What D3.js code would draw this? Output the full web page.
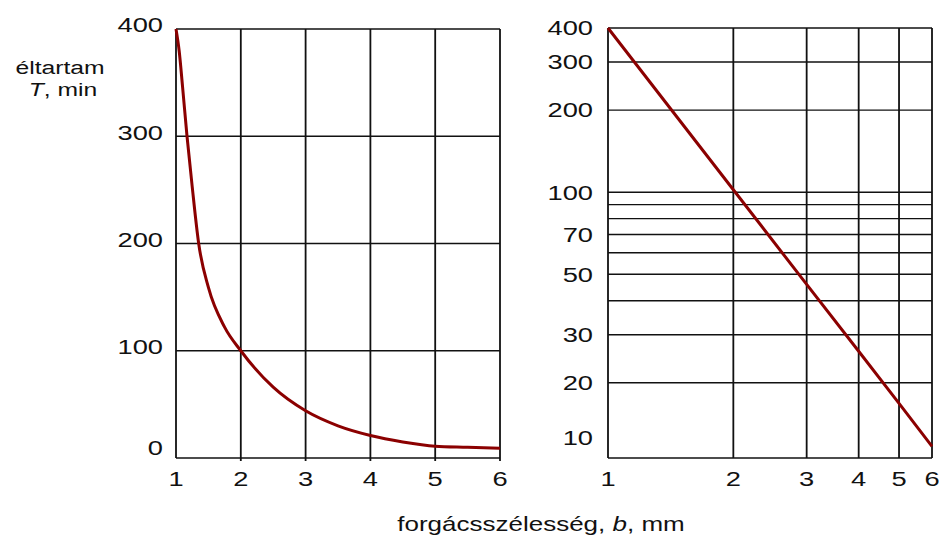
<!DOCTYPE html>
<html>
<head>
<meta charset="utf-8">
<script src="https://cdn.jsdelivr.net/npm/d3@7"></script>
<style>
  body { margin: 0; background: #fff; }
  text { font-family: "Liberation Sans", Arial, sans-serif; fill: #111; }
</style>
</head>
<body>
<div id="chart"></div>
<script>
// values
// left panel (linear axes)
var widthLin = [1, 1.05, 1.1, 1.17, 1.25, 1.35, 1.5, 1.75, 2, 2.5, 3, 3.5, 4, 4.5, 5, 5.5, 6];
var lifeLin  = [400, 379, 347, 300, 253, 200, 159, 122, 100, 66, 44, 30, 21, 15, 11, 10, 9];
// right panel (log-log, straight line)
var widthLog = [1, 2, 3, 4, 5, 6];
var lifeLog  = [400, 102.1, 45.9, 26.1, 16.8, 11.7];

var xTicks = [1, 2, 3, 4, 5, 6];
var linYTicks = [0, 100, 200, 300, 400];
var logYGrid = [20, 30, 40, 50, 60, 70, 80, 90, 100, 200, 300, 400];
var logYLabels = [10, 20, 30, 50, 70, 100, 200, 300, 400];

var W = 939, H = 539;
var stretch = 1.3; // text in the original is stretched sideways

var svg = d3.select("#chart").append("svg")
    .attr("width", W)
    .attr("height", H);

// small helper for the wide text
function label(x, y, anchor, size) {
    var g = svg.append("g").attr("transform", "translate(" + x + "," + y + ")");
    return g.append("text")
        .attr("transform", "scale(" + stretch + ",1)")
        .attr("text-anchor", anchor)
        .attr("dominant-baseline", "central")
        .style("font-size", size + "px");
}

// ---- left panel, linear ----
var xL = d3.scaleLinear().domain([1, 6]).range([176, 500]);
var yL = d3.scaleLinear().domain([0, 400]).range([458, 29]);

var left = svg.append("g");

left.selectAll("line.v")
    .data(xTicks.slice(1))
    .enter().append("line")
    .attr("x1", function(d){ return xL(d); })
    .attr("x2", function(d){ return xL(d); })
    .attr("y1", yL(0) + 3)
    .attr("y2", yL(400))
    .attr("stroke", "#111")
    .attr("stroke-width", 1.8);

left.selectAll("line.h")
    .data(linYTicks.slice(1))
    .enter().append("line")
    .attr("x1", xL(1))
    .attr("x2", xL(6))
    .attr("y1", function(d){ return yL(d); })
    .attr("y2", function(d){ return yL(d); })
    .attr("stroke", "#111")
    .attr("stroke-width", 1.4);

// axes lines
left.append("line")
    .attr("x1", xL(1)).attr("x2", xL(1))
    .attr("y1", yL(0)).attr("y2", yL(400))
    .attr("stroke", "#111").attr("stroke-width", 1.8);
left.append("line")
    .attr("x1", xL(1)).attr("x2", xL(6))
    .attr("y1", yL(0)).attr("y2", yL(0))
    .attr("stroke", "#111").attr("stroke-width", 1.6);

var lineL = d3.line()
    .x(function(d, i){ return xL(widthLin[i]); })
    .y(function(d){ return yL(d); })
    .curve(d3.curveMonotoneX);

left.append("path")
    .attr("d", lineL(lifeLin))
    .attr("fill", "none")
    .attr("stroke", "#8b0000")
    .attr("stroke-width", 3);

xTicks.forEach(function(d){
    label(xL(d), 479, "middle", 21).text(d);
});
linYTicks.forEach(function(d){
    var y = d === 0 ? yL(d) - 10 : yL(d) - 4;
    label(163, y, "end", 21).text(d);
});

// y title
label(60, 68, "middle", 19).text("éltartam");
var tt = label(63, 89, "middle", 19);
tt.append("tspan").style("font-style", "italic").text("T");
tt.append("tspan").text(", min");

// ---- right panel, log-log ----
var xR = d3.scaleLog().domain([1, 6]).range([608, 932]);
var yR = d3.scaleLog().domain([10.6, 400]).range([458, 28]);
var bottomR = yR.range()[0];

var right = svg.append("g");

right.selectAll("line.v")
    .data(xTicks.slice(1))
    .enter().append("line")
    .attr("x1", function(d){ return xR(d); })
    .attr("x2", function(d){ return xR(d); })
    .attr("y1", bottomR)
    .attr("y2", yR(400))
    .attr("stroke", "#111")
    .attr("stroke-width", 1.8);

right.selectAll("line.h")
    .data(logYGrid)
    .enter().append("line")
    .attr("x1", xR(1))
    .attr("x2", xR(6))
    .attr("y1", function(d){ return yR(d); })
    .attr("y2", function(d){ return yR(d); })
    .attr("stroke", "#111")
    .attr("stroke-width", 1.4);

right.append("line")
    .attr("x1", xR(1)).attr("x2", xR(1))
    .attr("y1", bottomR).attr("y2", yR(400))
    .attr("stroke", "#111").attr("stroke-width", 1.8);
right.append("line")
    .attr("x1", xR(1)).attr("x2", xR(6))
    .attr("y1", bottomR).attr("y2", bottomR)
    .attr("stroke", "#111").attr("stroke-width", 1.6);

var lineR = d3.line()
    .x(function(d, i){ return xR(widthLog[i]); })
    .y(function(d){ return yR(d); });

right.append("path")
    .attr("d", lineR(lifeLog))
    .attr("fill", "none")
    .attr("stroke", "#8b0000")
    .attr("stroke-width", 3);

xTicks.forEach(function(d){
    label(xR(d), 479, "middle", 21).text(d);
});
logYLabels.forEach(function(d){
    // the 10 sits below the bottom edge of the scale, so it is pulled up
    var y = Math.min(yR(d), bottomR - 20);
    label(593, y, "end", 21).text(d);
});

// x title
var xt = label(541, 524, "middle", 20);
xt.append("tspan").text("forgácsszélesség, ");
xt.append("tspan").style("font-style", "italic").text("b");
xt.append("tspan").text(", mm");
</script>
</body>
</html>
